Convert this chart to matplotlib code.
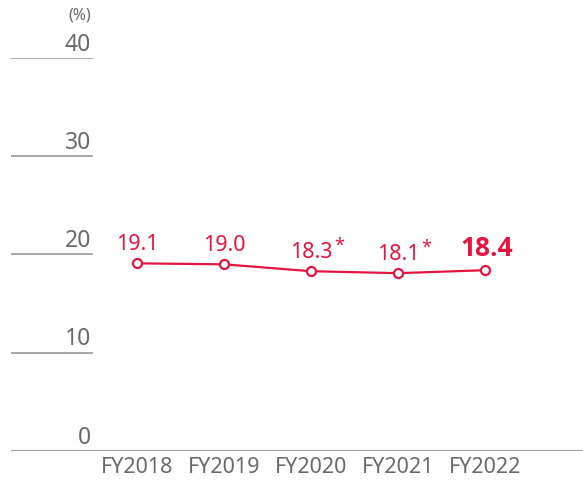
import matplotlib.pyplot as plt

years = ['FY2018', 'FY2019', 'FY2020', 'FY2021', 'FY2022']
values = [19.1, 19.0, 18.3, 18.1, 18.4]
labels = ['19.1', '19.0', '18.3', '18.1', '18.4']
notes = ['', '', '*', '*', '']
yticks = [0, 10, 20, 30, 40]

red = '#E4153F'
gray = '#6A6A6A'
plt.rcParams['font.family'] = ['Noto Sans', 'DejaVu Sans']

fig = plt.figure(figsize=(5.83, 4.84), dpi=100)
W, H = 583, 484
ax = fig.add_axes([11 / W, 1 - 451 / H, 572 / W, (451 - 58) / H])
ax.set_xlim(-126 / 87, 446 / 87)
ax.set_ylim(0, 40)
ax.axis('off')

# short grid stubs on the left, full baseline at zero
for t in yticks:
    if t == 0:
        ax.axhline(0, color='#888888', lw=1.2)
    else:
        ax.axhline(t, xmin=0, xmax=81 / 572, color='#999999', lw=1.2)
    ax.annotate(str(t), (80 / 572, t), xycoords=('axes fraction', 'data'),
                xytext=(0, 1), textcoords='offset points',
                ha='right', va='bottom', fontsize=16.5, color=gray)
ax.annotate('(%)', (80 / 572, 40), xycoords=('axes fraction', 'data'),
            xytext=(0, 25), textcoords='offset points',
            ha='right', va='bottom', fontsize=11.5, color=gray)

x = list(range(len(years)))
ax.plot(x, values, color=red, lw=1.6, marker='o', ms=6.5,
        mfc='white', mec=red, mew=1.6, clip_on=False)

for i, (v, lab, n) in enumerate(zip(values, labels, notes)):
    if i == len(values) - 1:
        ax.annotate(lab, (i, v), xytext=(1, 6), textcoords='offset points',
                    ha='center', va='bottom', color=red, fontsize=19,
                    family=['Open Sans', 'DejaVu Sans'], fontweight='bold')
    else:
        ax.annotate(lab, (i, v), xytext=(0, 6), textcoords='offset points',
                    ha='center', va='bottom', color=red, fontsize=15.5)
    if n:
        ax.annotate(n, (i, v), xytext=(16.5, 12), textcoords='offset points',
                    ha='left', va='bottom', color=red, fontsize=13)

for i, yr in enumerate(years):
    ax.annotate(yr, (i, 0), xytext=(0, -4), textcoords='offset points',
                ha='center', va='top', fontsize=15.5, color=gray,
                annotation_clip=False)

fig.savefig('out.png', dpi=100)
